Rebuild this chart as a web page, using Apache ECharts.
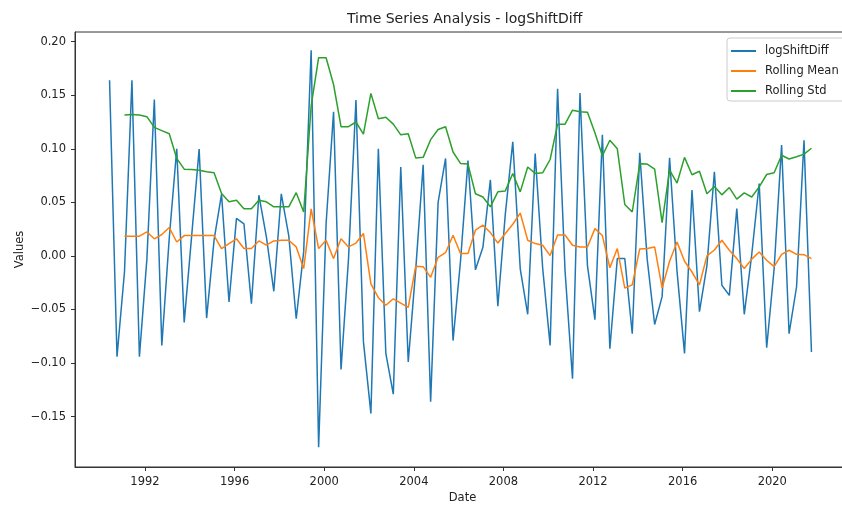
<!DOCTYPE html>
<html>
<head>
<meta charset="utf-8">
<script src="https://cdn.jsdelivr.net/npm/echarts@6/dist/echarts.min.js"></script>
<style>
  html, body { margin: 0; padding: 0; background: #ffffff; }
  #chart { width: 842px; height: 506px; }
</style>
</head>
<body>
<div id="chart"></div>
<script>
// Observations every 4 months, starting June 1990
const startYear = 1990;
const startMonth = 6;
const stepMonths = 4;

const logShiftDiff = [
  0.164, -0.094, -0.015, 0.164, -0.094, -0.003, 0.146, -0.0835, 0.017, 0.100,
  -0.062, 0.019, 0.0997, -0.058, 0.015, 0.0576, -0.043, 0.035, 0.030, -0.0445,
  0.0567, 0.018, -0.033, 0.058, 0.019, -0.0586, 0.004, 0.192, -0.1785, 0.030,
  0.1346, -0.106, -0.003, 0.1455, -0.080, -0.147, 0.100, -0.091, -0.129, 0.083,
  -0.099, -0.013, 0.085, -0.136, 0.050, 0.091, -0.079, -0.005, 0.089, -0.013,
  0.008, 0.071, -0.047, 0.039, 0.1065, -0.012, -0.0545, 0.0956, -0.011, -0.0835,
  0.156, -0.014, -0.1146, 0.152, -0.009, -0.0595, 0.113, -0.0866, -0.0025, -0.0025,
  -0.0726, 0.0963, -0.003, -0.064, -0.038, 0.0916, -0.0146, -0.091, 0.0614, -0.052,
  -0.009, 0.0785, -0.0274, -0.0368, 0.0442, -0.0545, 0.0013, 0.0676, -0.0857, -0.012,
  0.1034, -0.0726, -0.029, 0.108, -0.0897
];

const rollingMean = [
  null, null, 0.0184, 0.0184, 0.0184, 0.0224, 0.016, 0.020, 0.0265, 0.013,
  0.019, 0.019, 0.019, 0.019, 0.019, 0.0069, 0.0115, 0.016, 0.0069, 0.0069,
  0.014, 0.010, 0.014, 0.0146, 0.0146, 0.0084, -0.0118, 0.044, 0.0069, 0.0146,
  -0.0025, 0.016, 0.0084, 0.012, 0.021, -0.026, -0.039, -0.046, -0.040, -0.044,
  -0.048, -0.0097, -0.010, -0.020, -0.0013, 0.003, 0.0193, 0.0022, 0.0022, 0.024,
  0.0287, 0.0218, 0.012, 0.021, 0.0296, 0.040, 0.0146, 0.0115, 0.010, 0.0003,
  0.0195, 0.0195, 0.010, 0.0084, 0.0084, 0.0255, 0.019, -0.011, 0.0069, -0.030,
  -0.027, 0.0065, 0.0069, 0.0084, -0.030, -0.005, 0.013, -0.005, -0.015, -0.027,
  0.0, 0.0055, 0.0146, 0.0053, -0.0025, -0.0118, -0.003, 0.0037, -0.004, -0.010,
  0.0015, 0.0053, 0.0015, 0.0012, -0.0025
];

const rollingStd = [
  null, null, 0.1315, 0.132, 0.1315, 0.130, 0.120, 0.117, 0.114, 0.091,
  0.081, 0.0807, 0.080, 0.0785, 0.0776, 0.0583, 0.0505, 0.052, 0.044, 0.044,
  0.052, 0.0505, 0.0458, 0.0458, 0.0458, 0.059, 0.041, 0.140, 0.185, 0.185,
  0.160, 0.1206, 0.1206, 0.125, 0.1137, 0.1517, 0.128, 0.1295, 0.123, 0.113,
  0.114, 0.0915, 0.092, 0.1085, 0.118, 0.1206, 0.097, 0.0863, 0.0857, 0.058,
  0.055, 0.0458, 0.0598, 0.0607, 0.077, 0.0598, 0.083, 0.077, 0.0776, 0.090,
  0.123, 0.123, 0.136, 0.1346, 0.134, 0.115, 0.0935, 0.108, 0.100, 0.048,
  0.041, 0.086, 0.0857, 0.081, 0.031, 0.080, 0.068, 0.092, 0.0758, 0.079,
  0.058, 0.0648, 0.057, 0.0638, 0.053, 0.0588, 0.055, 0.0645, 0.076, 0.0776,
  0.094, 0.0905, 0.0925, 0.095, 0.1005
];

const yearTicks = [1992, 1996, 2000, 2004, 2008, 2012, 2016, 2020];
const valueTicks = [-0.15, -0.10, -0.05, 0.00, 0.05, 0.10, 0.15, 0.20];

// Decimal-year position of each observation
const dates = logShiftDiff.map((_, i) => {
  const m = (startMonth - 1) + i * stepMonths;
  return startYear + Math.floor(m / 12) + (m % 12) / 12;
});

const pairs = arr => arr.map((v, i) => [dates[i], v]);

const FONT = 'DejaVu Sans';
const INK = '#222222';
const FRAME = '#333333';

const chart = echarts.init(document.getElementById('chart'), null, { renderer: 'canvas' });

chart.setOption({
  animation: false,
  backgroundColor: '#ffffff',
  textStyle: { fontFamily: FONT },
  title: {
    text: 'Time Series Analysis - logShiftDiff',
    left: 342,
    top: 7,
    textStyle: { fontFamily: FONT, fontSize: 14, fontWeight: 'normal', color: INK }
  },
  grid: {
    left: 75, top: 32, right: -8, bottom: 39,
    outerBoundsMode: 'none',
    containLabel: false,
    show: true, borderColor: FRAME, borderWidth: 1, backgroundColor: 'transparent'
  },
  legend: {
    orient: 'vertical',
    left: 727, top: 38,
    padding: [7, 30, 4, 4],
    itemGap: 8,
    itemWidth: 25, itemHeight: 2,
    icon: 'rect',
    backgroundColor: 'rgba(255,255,255,0.85)',
    borderColor: '#cccccc', borderWidth: 1, borderRadius: 3,
    textStyle: { fontFamily: FONT, fontSize: 11.5, color: INK, padding: [0, 0, 0, 4] },
    data: ['logShiftDiff', 'Rolling Mean', 'Rolling Std']
  },
  xAxis: {
    type: 'value',
    min: 1988.875, max: 2023.47,
    name: 'Date', nameLocation: 'middle', nameGap: 25, nameMoveOverlap: false,
    nameTextStyle: { fontFamily: FONT, fontSize: 11.5, color: INK },
    axisLine: { show: true, onZero: false, lineStyle: { color: FRAME, width: 1 } },
    axisTick: { show: true, customValues: yearTicks, length: 4, lineStyle: { color: FRAME, width: 1 } },
    axisLabel: { customValues: yearTicks, margin: 9, fontFamily: FONT, fontSize: 11.5, color: INK,
                 formatter: v => String(v) },
    splitLine: { show: false }
  },
  yAxis: {
    type: 'value',
    min: -0.197, max: 0.209,
    name: 'Values', nameLocation: 'middle', nameGap: 49, nameMoveOverlap: false,
    nameTextStyle: { fontFamily: FONT, fontSize: 11.5, color: INK },
    axisLine: { show: true, onZero: false, lineStyle: { color: FRAME, width: 1 } },
    axisTick: { show: true, customValues: valueTicks, length: 4, lineStyle: { color: FRAME, width: 1 } },
    axisLabel: { customValues: valueTicks, margin: 9, fontFamily: FONT, fontSize: 11.5, color: INK,
                 formatter: v => v.toFixed(2).replace('-', '\u2212') },
    splitLine: { show: false }
  },
  series: [
    {
      name: 'logShiftDiff', type: 'line', data: pairs(logShiftDiff),
      showSymbol: false, symbol: 'none', color: '#1f77b4',
      lineStyle: { width: 1.5, color: '#1f77b4' }
    },
    {
      name: 'Rolling Mean', type: 'line', data: pairs(rollingMean),
      showSymbol: false, symbol: 'none', color: '#ff7f0e',
      lineStyle: { width: 1.5, color: '#ff7f0e' }
    },
    {
      name: 'Rolling Std', type: 'line', data: pairs(rollingStd),
      showSymbol: false, symbol: 'none', color: '#2ca02c',
      lineStyle: { width: 1.5, color: '#2ca02c' }
    }
  ]
});
</script>
</body>
</html>
